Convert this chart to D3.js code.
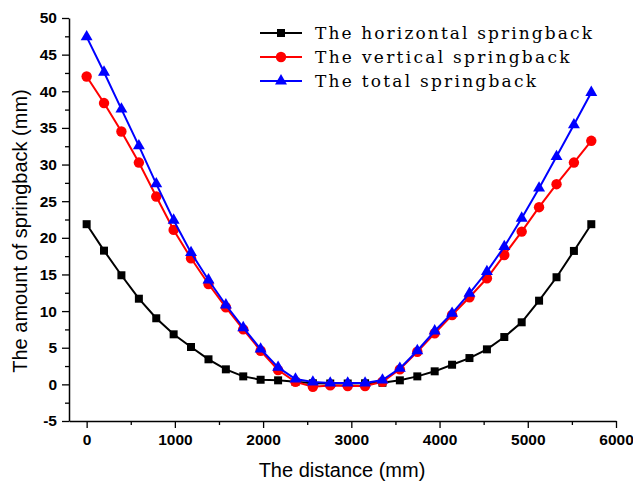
<!DOCTYPE html>
<html>
<head>
<meta charset="utf-8">
<script src="https://d3js.org/d3.v7.min.js"></script>
<style>
  body { margin: 0; background: #fff; }
  .tick text { font-family: "Liberation Sans", Arial, sans-serif; font-weight: bold; font-size: 15.5px; }
</style>
</head>
<body>
<svg id="canvas" width="633" height="482"></svg>
<script>
// ###############
// data
// ###############
var distance = [0, 197, 394, 592, 789, 986, 1183, 1381, 1578, 1775, 1972, 2170, 2367, 2564, 2761,
                2959, 3156, 3353, 3550, 3748, 3945, 4142, 4339, 4537, 4734, 4931, 5128, 5326, 5523, 5720];

var horizontal = [21.86, 18.25, 14.89, 11.69, 9.02, 6.83, 5.10, 3.42, 2.05, 1.09, 0.63, 0.55, 0.35, 0.15, 0.12,
                  0.12, 0.15, 0.22, 0.55, 1.09, 1.78, 2.68, 3.59, 4.78, 6.46, 8.47, 11.42, 14.62, 18.21, 21.86];

var vertical = [42.02, 38.39, 34.51, 30.27, 25.63, 21.08, 17.21, 13.70, 10.52, 7.51, 4.59, 1.95, 0.36, -0.32, -0.14,
                -0.23, -0.23, 0.36, 2.05, 4.45, 6.97, 9.47, 11.89, 14.48, 17.66, 20.85, 24.18, 27.32, 30.27, 33.24];

var total = [47.42, 42.60, 37.57, 32.55, 27.36, 22.40, 17.98, 14.25, 10.83, 7.73, 4.82, 2.32, 0.72, 0.31, 0.18,
             0.18, 0.18, 0.59, 2.18, 4.59, 7.28, 9.70, 12.43, 15.38, 18.80, 22.68, 26.78, 31.09, 35.42, 39.84];

var seriesNames = ["The horizontal springback", "The vertical springback", "The total springback"];
var xTicks = [0, 1000, 2000, 3000, 4000, 5000, 6000];
var yTicks = [-5, 0, 5, 10, 15, 20, 25, 30, 35, 40, 45, 50];

var svg = d3.select("#canvas");

// scales - axis starts a bit left of 0 like in the original
var x = d3.scaleLinear().domain([-200, 6000]).range([69, 616]);
var y = d3.scaleLinear().domain([-5, 50]).range([421, 18]);

// plain integers with an ascii minus, no thousands comma
var fmt = function(d) { return String(d); };

// minor ticks first, then majors on top
svg.append("g")
    .attr("transform", "translate(0,421)")
    .call(d3.axisBottom(x).tickValues(d3.range(500, 6000, 1000)).tickSize(4).tickSizeOuter(0).tickFormat(""))
    .call(function(g){ g.select(".domain").remove(); g.selectAll("line").attr("stroke-width", 1.3); });

svg.append("g")
    .attr("transform", "translate(69,0)")
    .call(d3.axisLeft(y).tickValues(d3.range(-2.5, 50, 5)).tickSize(4).tickSizeOuter(0).tickFormat(""))
    .call(function(g){ g.select(".domain").remove(); g.selectAll("line").attr("stroke-width", 1.3); });

var xAxis = svg.append("g")
    .attr("transform", "translate(0,421)")
    .call(d3.axisBottom(x).tickValues(xTicks).tickSize(7).tickSizeOuter(0).tickPadding(6).tickFormat(fmt));
xAxis.select(".domain").attr("stroke-width", 1.5);
xAxis.selectAll("line").attr("stroke-width", 1.3);

var yAxis = svg.append("g")
    .attr("transform", "translate(69,0)")
    .call(d3.axisLeft(y).tickValues(yTicks).tickSize(7).tickSizeOuter(0).tickPadding(5).tickFormat(fmt));
yAxis.select(".domain").attr("stroke-width", 1.5);
yAxis.selectAll("line").attr("stroke-width", 1.3);

// axis titles
svg.append("text")
    .attr("x", 342).attr("y", 477)
    .attr("text-anchor", "middle")
    .style("font-family", "Liberation Sans, Arial, sans-serif")
    .style("font-size", "20px")
    .text("The distance (mm)");

svg.append("text")
    .attr("transform", "translate(27,231) rotate(-90)")
    .attr("text-anchor", "middle")
    .style("font-family", "Liberation Sans, Arial, sans-serif")
    .style("font-size", "20px")
    .text("The amount of springback (mm)");

// ###############
// series
// ###############
var series = [
    { name: seriesNames[0], values: horizontal, color: "#000000", symbol: d3.symbolSquare, size: 64 },
    { name: seriesNames[1], values: vertical,   color: "#ff0000", symbol: d3.symbolCircle, size: 85 },
    { name: seriesNames[2], values: total,      color: "#0000ff", symbol: d3.symbolTriangle, size: 62 }
];

var line = d3.line()
    .x(function(d) { return x(d[0]); })
    .y(function(d) { return y(d[1]); });

series.forEach(function(s) {
    var pts = distance.map(function(dd, i) { return [dd, s.values[i]]; });

    svg.append("path")
        .datum(pts)
        .attr("fill", "none")
        .attr("stroke", s.color)
        .attr("stroke-width", 2)
        .attr("d", line);

    svg.append("g").selectAll("path")
        .data(pts)
        .enter()
        .append("path")
        .attr("fill", s.color)
        .attr("transform", function(d) { return "translate(" + x(d[0]) + "," + y(d[1]) + ")"; })
        .attr("d", d3.symbol().type(s.symbol).size(s.size));
});

// ###############
// legend (mono-spaced serif look, so stretch text to a fixed advance per char)
// ###############
var legend = svg.append("g");
series.forEach(function(s, i) {
    var ly = 33 + i * 24;
    legend.append("line")
        .attr("x1", 260).attr("x2", 302)
        .attr("y1", ly).attr("y2", ly)
        .attr("stroke", s.color)
        .attr("stroke-width", 2);
    legend.append("path")
        .attr("fill", s.color)
        .attr("transform", "translate(281," + ly + ")")
        .attr("d", d3.symbol().type(s.symbol).size(s.size));
    legend.append("text")
        .attr("x", 315).attr("y", ly + 6)
        .attr("textLength", s.name.length * 11.2 - 3)
        .attr("lengthAdjust", "spacing")
        .style("font-family", "DejaVu Serif, Liberation Serif, serif")
        .style("font-size", "17px")
        .text(s.name);
});
</script>
</body>
</html>
